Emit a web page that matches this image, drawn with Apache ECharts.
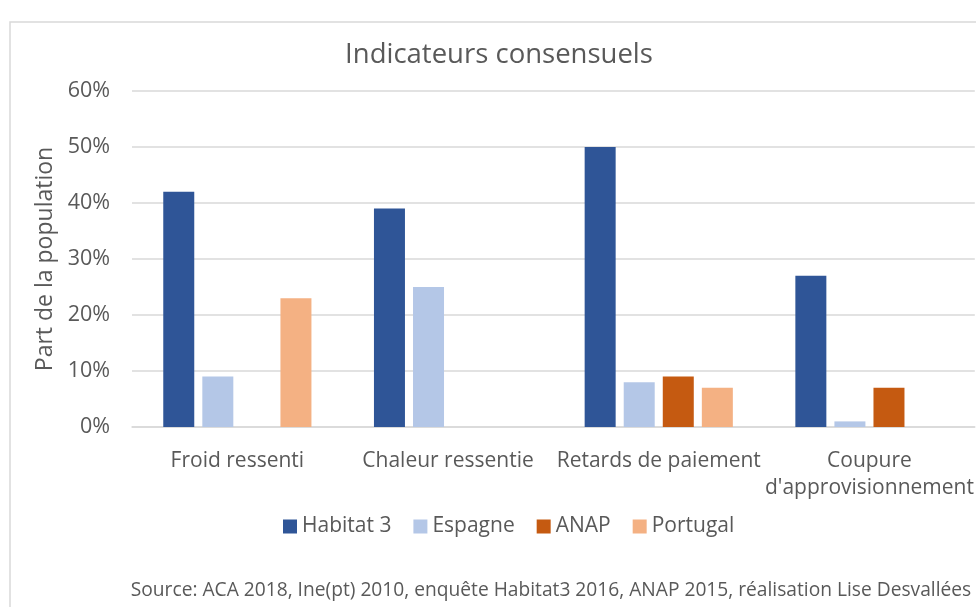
<!DOCTYPE html>
<html lang="fr">
  <head>
    <meta charset="UTF-8" />
    <title>Indicateurs consensuels</title>
    <script src="https://cdn.jsdelivr.net/npm/echarts@6/dist/echarts.min.js"></script>
    <style>
      html, body { margin: 0; padding: 0; background: #fff; }
    </style>
  </head>
  <body>
    <div id="chart" style="width: 976px; height: 607px"></div>
    <script>
      // catégories et séries (en %)
      const categories = ['Froid ressenti', 'Chaleur ressentie', 'Retards de paiement', "Coupure\nd'approvisionnement"]
      const habitat3 = [42, 39, 50, 27]
      const espagne = [9, 25, 8, 1]
      const anap = [null, null, 9, 7]
      const portugal = [23, null, 7, null]
      const seriesNames = ['Habitat 3', 'Espagne', 'ANAP', 'Portugal']
      const colors = ['#2F5597', '#B4C7E7', '#C55A11', '#F4B183']

      const font = '"Open Sans", sans-serif'
      const grey = '#595959'

      const chart = echarts.init(document.getElementById('chart'))

      const values = [habitat3, espagne, anap, portugal]

      chart.setOption({
        animation: false,
        color: colors,
        textStyle: { fontFamily: font },
        title: {
          text: 'Indicateurs consensuels',
          left: 494,
          textAlign: 'center',
          top: 36,
          textStyle: { fontSize: 27.5, fontWeight: 'normal', color: grey, fontFamily: font },
        },
        graphic: [
          {
            type: 'rect',
            shape: { x: 10, y: 22, width: 1000, height: 700 },
            style: { fill: 'none', stroke: '#d9d9d9', lineWidth: 1.5 },
            z: -1,
          },
          {
            type: 'text',
            x: 551,
            y: 591,
            style: {
              text: 'Source: ACA 2018, Ine(pt) 2010, enquête Habitat3 2016, ANAP 2015, réalisation Lise Desvallées',
              fill: grey,
              font: '19.2px ' + font,
              align: 'center',
              verticalAlign: 'middle',
            },
          },
        ],
        legend: {
          data: seriesNames,
          left: 278,
          top: 511,
          itemWidth: 14,
          itemHeight: 14,
          itemGap: 22,
          icon: 'rect',
          textStyle: { fontSize: 21, color: grey, fontFamily: font },
        },
        grid: { left: 132, right: -6, top: 91, bottom: 180 },
        xAxis: {
          type: 'category',
          data: categories,
          axisLine: { lineStyle: { color: '#d9d9d9', width: 1.5 } },
          axisTick: { show: false },
          axisLabel: { interval: 0, fontSize: 21, color: grey, margin: 21, lineHeight: 27, fontFamily: font },
        },
        yAxis: {
          type: 'value',
          min: 0,
          max: 60,
          interval: 10,
          name: 'Part de la population',
          nameLocation: 'middle',
          nameGap: 74,
          nameTextStyle: { fontSize: 23, color: grey, fontFamily: font },
          axisLabel: { formatter: '{value}%', fontSize: 21.5, color: grey, margin: 22, fontFamily: font },
          splitLine: { lineStyle: { color: '#d9d9d9', width: 1.5 } },
        },
        series: seriesNames.map((name, i) => ({
          name: name,
          type: 'bar',
          data: values[i],
          barWidth: 31,
          barGap: '26%',
          itemStyle: { color: colors[i] },
        })),
      })
    </script>
  </body>
</html>
